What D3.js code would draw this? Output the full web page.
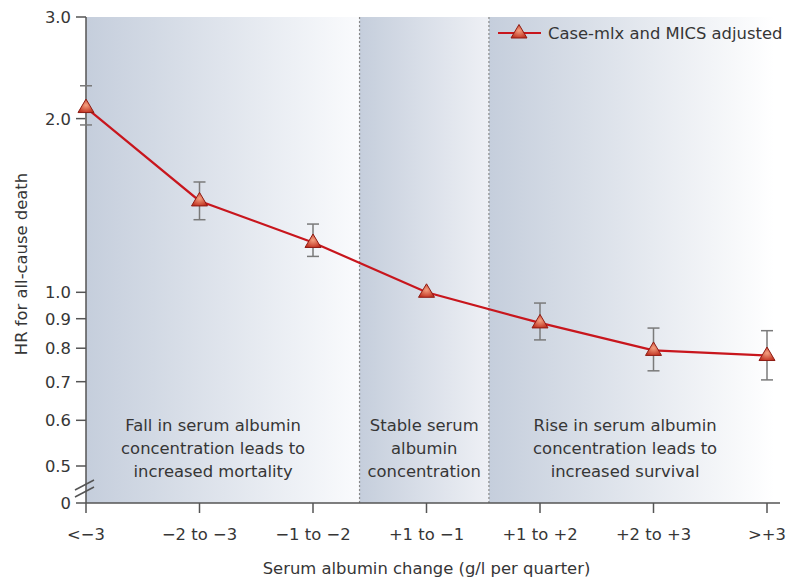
<!DOCTYPE html>
<html><head><meta charset="utf-8">
<script src="https://cdn.jsdelivr.net/npm/d3@7"></script>
<style>body{margin:0;background:#fff}svg{display:block}text{font-family:"DejaVu Sans",sans-serif;fill:#363636}</style>
</head><body><svg id="c" width="788" height="582"></svg>
<script>
const categories = ["<\u22123", "\u22122 to \u22123", "\u22121 to \u22122", "+1 to \u22121", "+1 to +2", "+2 to +3", ">+3"];
const hr    = [2.09, 1.44, 1.22, 1.00, 0.885, 0.793, 0.777];
const lower = [1.95, 1.336, 1.154, 1.00, 0.827, 0.731, 0.705];
const upper = [2.28, 1.553, 1.313, 1.00, 0.958, 0.867, 0.858];
const yTicks = [0.5, 0.6, 0.7, 0.8, 0.9, 1.0, 2.0, 3.0];
const seriesName = "Case-mlx and MICS adjusted";
// region boundaries in category-index units
const regions = [
  {from: 0, to: 2.41, mid: 1.12, lines: ["Fall in serum albumin", "concentration leads to", "increased mortality"], end: "#fafbfd"},
  {from: 2.41, to: 3.55, mid: 2.98, lines: ["Stable serum", "albumin", "concentration"], end: "#eef0f5"},
  {from: 3.55, to: 6.06, mid: 4.75, lines: ["Rise in serum albumin", "concentration leads to", "increased survival"], end: "#ffffff"}
];

const FS = 16.4;
const svg = d3.select("#c");
const x = d3.scalePoint().domain(categories).range([86, 767]);
const xi = d3.scaleLinear().domain([0, 6]).range([86, 767]);
const y = d3.scaleLog().domain([0.5, 3]).range([466, 17]);
const yZero = 503;
const yTop = y(3);

const defs = svg.append("defs");
regions.forEach((r, i) => {
  const g = defs.append("linearGradient").attr("id", "bg" + i).attr("x1", 0).attr("x2", 1).attr("y1", 0).attr("y2", 0);
  g.append("stop").attr("offset", 0).attr("stop-color", "#c5cedc");
  g.append("stop").attr("offset", 1).attr("stop-color", r.end);
});
const mg = defs.append("radialGradient").attr("id", "mk").attr("cx", 0.5).attr("cy", 0.45).attr("r", 0.6);
mg.append("stop").attr("offset", 0).attr("stop-color", "#f4a080");
mg.append("stop").attr("offset", 1).attr("stop-color", "#c0301f");

// backgrounds
svg.selectAll("rect.bg").data(regions).join("rect").attr("class", "bg")
  .attr("x", d => xi(d.from)).attr("width", d => xi(d.to) - xi(d.from))
  .attr("y", yTop).attr("height", yZero - yTop)
  .attr("fill", (d, i) => `url(#bg${i})`);

// dashed boundaries
svg.selectAll("line.bd").data(regions.slice(1)).join("line").attr("class", "bd")
  .attr("x1", d => xi(d.from)).attr("x2", d => xi(d.from))
  .attr("y1", yTop).attr("y2", yZero)
  .attr("stroke", "#8a8a8a").attr("stroke-width", 1.2).attr("stroke-dasharray", "2,2");

// region text
regions.forEach(r => {
  const t = svg.append("text").attr("text-anchor", "middle").attr("font-size", FS);
  r.lines.forEach((l, k) => t.append("tspan").attr("x", xi(r.mid)).attr("y", 431 + k * 23).text(l));
});

// axes
const axCol = "#555";
svg.append("line").attr("x1", 86).attr("x2", 86).attr("y1", yTop).attr("y2", yZero).attr("stroke", axCol).attr("stroke-width", 1.5);
svg.append("line").attr("x1", 86).attr("x2", 780).attr("y1", yZero).attr("y2", yZero).attr("stroke", axCol).attr("stroke-width", 1.5);
const yt = svg.append("g");
const ytickData = yTicks.map(v => ({pos: y(v), label: d3.format(".1f")(v)})).concat([{pos: yZero, label: "0"}]);
yt.selectAll("line").data(ytickData).join("line")
  .attr("x1", 76).attr("x2", 86).attr("y1", d => d.pos).attr("y2", d => d.pos).attr("stroke", axCol).attr("stroke-width", 1.5);
yt.selectAll("text").data(ytickData).join("text")
  .attr("x", 71).attr("y", d => d.pos).attr("dy", "0.36em").attr("text-anchor", "end").attr("font-size", FS).text(d => d.label);
// break marks
[0, 7].forEach(o => svg.append("line").attr("x1", 75).attr("y1", 490 + o).attr("x2", 94).attr("y2", 480 + o)
  .attr("stroke", axCol).attr("stroke-width", 1.5));

const xt = svg.append("g");
xt.selectAll("line").data(categories).join("line")
  .attr("x1", d => x(d)).attr("x2", d => x(d)).attr("y1", yZero).attr("y2", 513).attr("stroke", axCol).attr("stroke-width", 1.5);
xt.selectAll("text").data(categories).join("text")
  .attr("x", d => x(d)).attr("y", 540).attr("text-anchor", "middle").attr("font-size", FS).text(d => d);

svg.append("text").attr("x", xi(3)).attr("y", 574).attr("text-anchor", "middle").attr("font-size", FS).text("Serum albumin change (g/l per quarter)");
svg.append("text").attr("transform", "translate(27,264) rotate(-90)").attr("text-anchor", "middle").attr("font-size", FS).text("HR for all-cause death");

// error bars
const pts = categories.map((c, i) => ({c, v: hr[i], lo: lower[i], hi: upper[i]}));
const eb = svg.append("g").attr("stroke", "#7a7a7a").attr("stroke-width", 1.5);
pts.filter(d => d.hi !== d.lo).forEach(d => {
  eb.append("line").attr("x1", x(d.c)).attr("x2", x(d.c)).attr("y1", y(d.hi)).attr("y2", y(d.lo));
  eb.append("line").attr("x1", x(d.c) - 6).attr("x2", x(d.c) + 6).attr("y1", y(d.hi)).attr("y2", y(d.hi));
  eb.append("line").attr("x1", x(d.c) - 6).attr("x2", x(d.c) + 6).attr("y1", y(d.lo)).attr("y2", y(d.lo));
});

// line
svg.append("path").datum(pts).attr("fill", "none").attr("stroke", "#c8161d").attr("stroke-width", 2.2)
  .attr("d", d3.line().x(d => x(d.c)).y(d => y(d.v)));

const tri = "M0,-8.5L8,5L-8,5Z";
svg.selectAll("path.mk").data(pts).join("path").attr("class", "mk")
  .attr("transform", d => `translate(${x(d.c)},${y(d.v)})`).attr("d", tri)
  .attr("fill", "url(#mk)").attr("stroke", "#8e1c14").attr("stroke-width", 1);

// legend
const lg = svg.append("g").attr("transform", "translate(0,33)");
lg.append("line").attr("x1", 498).attr("x2", 541).attr("y1", 0).attr("y2", 0).attr("stroke", "#c8161d").attr("stroke-width", 2.2);
lg.append("path").attr("d", tri).attr("transform", "translate(519,0)").attr("fill", "url(#mk)").attr("stroke", "#8e1c14").attr("stroke-width", 1);
lg.append("text").attr("x", 548).attr("y", 0).attr("dy", "0.36em").attr("font-size", FS).text(seriesName);
</script></body></html>
